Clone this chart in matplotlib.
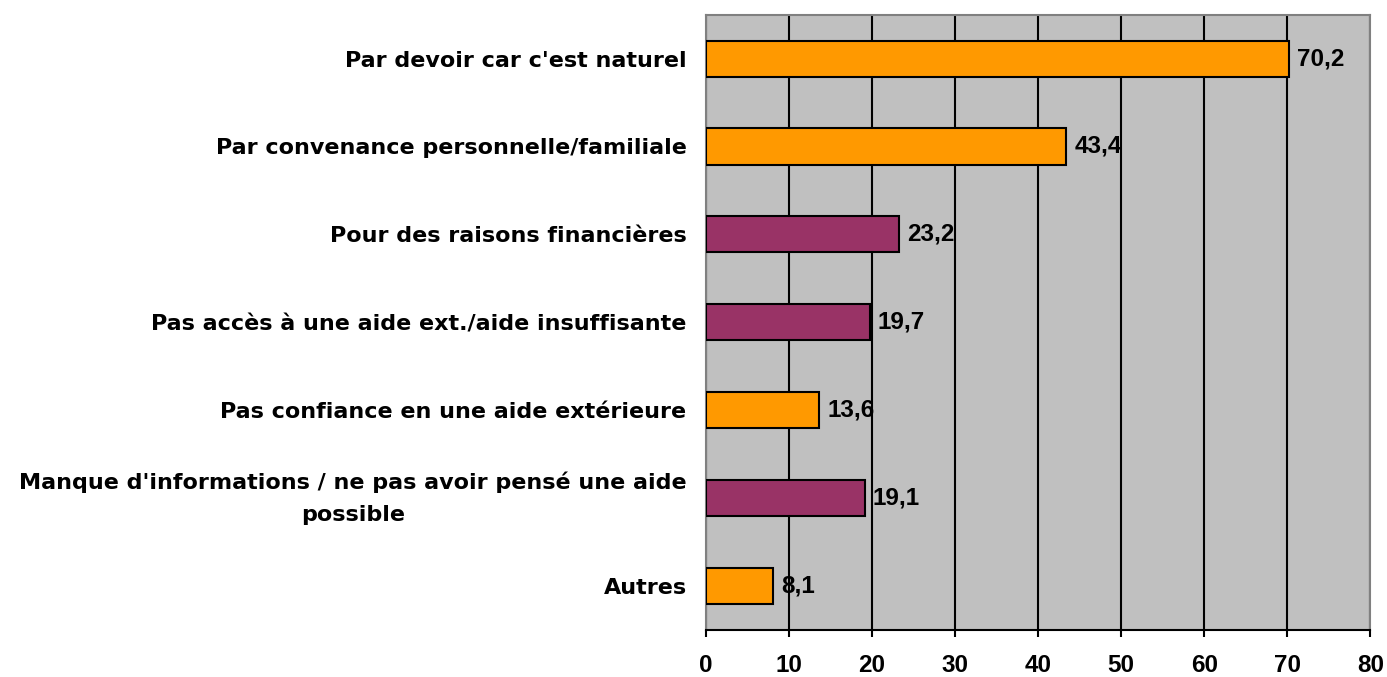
import numpy as np
import matplotlib.pyplot as plt

categories = ["Par devoir car c'est naturel",
              "Par convenance personnelle/familiale",
              "Pour des raisons financières",
              "Pas accès à une aide ext./aide insuffisante",
              "Pas confiance en une aide extérieure",
              "Manque d'informations / ne pas avoir pensé une aide\npossible",
              "Autres"]
values = [70.2, 43.4, 23.2, 19.7, 13.6, 19.1, 8.1]
colors = ['#FF9900', '#FF9900', '#993366', '#993366', '#FF9900', '#993366', '#FF9900']
xticks = [0, 10, 20, 30, 40, 50, 60, 70, 80]

plt.rcParams['font.family'] = ['Liberation Sans', 'DejaVu Sans']

fig = plt.figure(figsize=(13.87, 6.77), dpi=100)
ax = fig.add_axes([0.509, 0.0694, 0.479, 0.909])

y = np.arange(len(categories))
ax.barh(y, values, height=0.41, color=colors, edgecolor='black', linewidth=1.5, zorder=3)
for yi, v in zip(y, values):
    ax.text(v + 1.0, yi, '{:.1f}'.format(v).replace('.', ','), va='center', ha='left',
            fontsize=17.5, fontweight='bold', zorder=4)

ax.set_facecolor('#C0C0C0')
ax.set_xlim(0, 80)
ax.set_ylim(6.5, -0.5)
ax.set_xticks(xticks)
ax.set_xticklabels([str(t) for t in xticks], fontsize=17.5, fontweight='bold')
ax.set_yticks(y)
ax.set_yticklabels(categories, fontsize=16, fontweight='bold', family='DejaVu Sans',
                   linespacing=1.75)
for t in ax.get_yticklabels():
    t.set_multialignment('center')
    if '\n' in t.get_text():
        t.set_verticalalignment('center')
ax.tick_params(axis='y', length=0, pad=14)
ax.tick_params(axis='x', direction='out', length=5, width=1.5, pad=12)
ax.xaxis.grid(True, color='black', linewidth=1.5, zorder=1)
ax.set_axisbelow(True)
for s in ['top', 'right', 'left']:
    ax.spines[s].set_color('#808080')
    ax.spines[s].set_linewidth(1.5)
ax.spines['bottom'].set_color('black')
ax.spines['bottom'].set_linewidth(1.5)

plt.savefig('out.png', dpi=100)
